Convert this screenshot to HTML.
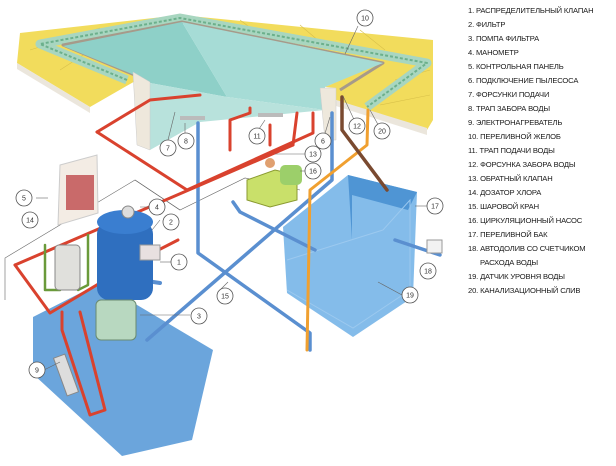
<!DOCTYPE html>
<html><head><meta charset="utf-8"><style>
html,body{margin:0;padding:0;background:#fff;}
svg{display:block}
.lg{font-family:"Liberation Sans",sans-serif;font-size:7.6px;fill:#1a1a1a;letter-spacing:-0.15px}
.n{font-family:"Liberation Sans",sans-serif;font-size:7px;fill:#333;text-anchor:middle}
.c{fill:#fff;stroke:#555;stroke-width:0.8}
.ld{stroke:#666;stroke-width:0.6;fill:none}
</style></head><body>
<svg width="616" height="466" viewBox="0 0 616 466" xmlns="http://www.w3.org/2000/svg">
<rect width="616" height="466" fill="#fff"/>
<!-- deck -->
<polygon points="20,33 180,15 433,40 433,120 427,130 336,100 336,88 325,87 383,62 182,20 63,43 137,74 137,80 90,107 17,63" fill="#f2dc5c"/>
<g stroke="#d8c04a" stroke-width="0.6" fill="none">
<line x1="30" y1="50" x2="100" y2="28"/><line x1="60" y1="70" x2="130" y2="25"/><line x1="240" y1="20" x2="260" y2="35"/>
<line x1="300" y1="25" x2="320" y2="42"/><line x1="360" y1="30" x2="385" y2="50"/><line x1="395" y1="80" x2="430" y2="70"/><line x1="380" y1="105" x2="430" y2="95"/>
</g>
<polygon points="17,63 90,107 90,113 17,69" fill="#ebe6dc"/>
<polygon points="336,100 427,128 427,135 336,106" fill="#ebe6dc"/>
<polyline points="127,80 40,44 180,18 427,63 367,107" fill="none" stroke="#a8d6c0" stroke-width="9" stroke-linejoin="round"/>
<polyline points="127,80 40,44 180,18 427,63 367,107" fill="none" stroke="#6cb08c" stroke-width="2" stroke-linejoin="round" stroke-dasharray="3 2"/>
<polyline points="137,76 63,45 182,22 383,63 340,90" fill="none" stroke="#a69a8a" stroke-width="3" stroke-linejoin="round"/>
<!-- water -->
<polygon points="63,46 182,22 227,97 150,83 137,76" fill="#8ed0c8"/>
<polygon points="182,22 383,63 325,87 325,110 227,97" fill="#a6dcd6"/>
<polygon points="150,83 227,97 325,110 200,122 150,150" fill="#b8e2dc"/>
<polygon points="133,72 150,82 150,150 137,145" fill="#eee8dc" stroke="#ccc" stroke-width="0.5"/>
<polygon points="320,88 336,88 336,140 325,140" fill="#eee8dc" stroke="#ccc" stroke-width="0.5"/>
<rect x="180" y="116" width="25" height="4" fill="#bbb"/>
<rect x="258" y="113" width="25" height="4" fill="#bbb"/>
<!-- blue pad -->
<polygon points="33,317 100,283 213,350 192,440 122,456 33,374" fill="#5b9bd8" opacity="0.9"/>
<!-- tank 17 -->
<polygon points="283,227 348,175 417,192 413,297 353,337 287,293" fill="#6fb0e6" opacity="0.85"/>
<polygon points="348,175 417,192 408,210 352,195 352,240" fill="#4f95d4"/>
<polyline points="287,260 383,230 410,200 410,290 353,328 287,290" fill="none" stroke="#9cc9ef" stroke-width="1"/>
<!-- outlines of floor -->
<polyline points="5,300 5,258 135,180 180,210" class="ld"/>
<polyline points="135,180 180,210 245,178 300,190" class="ld"/>
<!-- pipes -->
<g fill="none" stroke-linejoin="round" stroke-linecap="round">
<polyline points="198,123 198,253 310,333 310,350" stroke="#5a8fd0" stroke-width="3.5"/>
<polyline points="332,113 332,180 147,340" stroke="#5a8fd0" stroke-width="3.5"/>
<polyline points="233,202 240,212 315,250" stroke="#5a8fd0" stroke-width="3.5"/>
<polyline points="395,240 440,255" stroke="#5a8fd0" stroke-width="3.5"/>
<polyline points="140,280 160,283" stroke="#5a8fd0" stroke-width="4"/>
<polyline points="368,110 367,145 310,190 307,350" stroke="#f0a030" stroke-width="3"/>
<polyline points="342,97 342,130 387,190" stroke="#7a4a30" stroke-width="3.5"/>
<polyline points="97,132 150,100 200,95" stroke="#d9422e" stroke-width="3"/>
<polyline points="97,132 187,190 313,133 313,113" stroke="#d9422e" stroke-width="3"/>
<polyline points="230,150 230,120 250,113 250,108" stroke="#d9422e" stroke-width="3"/>
<polyline points="15,265 293,145" stroke="#d9422e" stroke-width="3"/>
<polyline points="15,265 50,313 135,262 178,240" stroke="#d9422e" stroke-width="3"/>
<polyline points="62,312 62,330 90,415 105,410 80,312" stroke="#d9422e" stroke-width="3"/>
<polyline points="293,145 297,113" stroke="#d9422e" stroke-width="3"/>
<polyline points="270,145 270,125" stroke="#d9422e" stroke-width="3"/>
<polyline points="45,245 45,290 60,290" stroke="#6a9a3a" stroke-width="2.5"/>
<polyline points="88,235 88,285 78,290" stroke="#6a9a3a" stroke-width="2.5"/>
</g>
<!-- control panel -->
<polygon points="60,165 97,155 98,213 58,225" fill="#f3ece4" stroke="#ccc"/>
<rect x="66" y="175" width="28" height="35" fill="#c96a6a"/>
<!-- filter -->
<rect x="97" y="222" width="56" height="78" rx="12" fill="#2f6fbf"/>
<ellipse cx="125" cy="222" rx="28" ry="12" fill="#3a7ed0"/>
<circle cx="128" cy="212" r="6" fill="#ddd" stroke="#888"/>
<rect x="140" y="245" width="20" height="15" fill="#e8e0e0" stroke="#999"/>
<!-- chlorinator -->
<rect x="55" y="245" width="25" height="45" rx="4" fill="#e0e0dc" stroke="#888"/>
<!-- pump 3 -->
<rect x="96" y="300" width="40" height="40" rx="5" fill="#b8d8c0" stroke="#6a8a70"/>
<!-- pump 16 -->
<polygon points="247,180 275,170 297,175 297,200 270,207 247,200" fill="#c9e06a" stroke="#8a9a30"/>
<rect x="280" y="165" width="22" height="20" rx="5" fill="#9ccf6a"/>
<circle cx="270" cy="163" r="5" fill="#e0a070"/>
<!-- heater 9 -->
<rect x="60" y="355" width="12" height="40" fill="#ddd" stroke="#888" transform="rotate(-20 66 375)"/>
<!-- 18 -->
<rect x="427" y="240" width="15" height="13" fill="#f2f2f2" stroke="#999"/>
<!-- label lines -->
<g class="ld">
<line x1="36" y1="198" x2="48" y2="198"/><line x1="358" y1="26" x2="345" y2="54"/>
<line x1="168" y1="140" x2="175" y2="112"/><line x1="185" y1="138" x2="185" y2="123"/>
<line x1="257" y1="132" x2="265" y2="120"/><line x1="275" y1="154" x2="305" y2="154"/>
<line x1="300" y1="171" x2="307" y2="171"/><line x1="323" y1="140" x2="330" y2="117"/>
<line x1="357" y1="126" x2="343" y2="96"/><line x1="381" y1="130" x2="370" y2="110"/>
<line x1="158" y1="207" x2="140" y2="207"/><line x1="160" y1="220" x2="152" y2="230"/>
<line x1="172" y1="262" x2="160" y2="262"/><line x1="190" y1="315" x2="140" y2="315"/>
<line x1="220" y1="290" x2="228" y2="282"/><line x1="427" y1="206" x2="415" y2="206"/>
<line x1="402" y1="295" x2="378" y2="282"/><line x1="44" y1="370" x2="60" y2="362"/>
</g>
<g>
<circle class="c" cx="24" cy="198" r="8"/><text class="n" x="24" y="200.5">5</text>
<circle class="c" cx="365" cy="18" r="8"/><text class="n" x="365" y="20.5">10</text>
<circle class="c" cx="168" cy="148" r="8"/><text class="n" x="168" y="150.5">7</text>
<circle class="c" cx="186" cy="141" r="8"/><text class="n" x="186" y="143.5">8</text>
<circle class="c" cx="257" cy="136" r="8"/><text class="n" x="257" y="138.5">11</text>
<circle class="c" cx="313" cy="154" r="8"/><text class="n" x="313" y="156.5">13</text>
<circle class="c" cx="313" cy="171" r="8"/><text class="n" x="313" y="173.5">16</text>
<circle class="c" cx="323" cy="141" r="8"/><text class="n" x="323" y="143.5">6</text>
<circle class="c" cx="357" cy="126" r="8"/><text class="n" x="357" y="128.5">12</text>
<circle class="c" cx="382" cy="131" r="8"/><text class="n" x="382" y="133.5">20</text>
<circle class="c" cx="30" cy="220" r="8"/><text class="n" x="30" y="222.5">14</text>
<circle class="c" cx="157" cy="207" r="8"/><text class="n" x="157" y="209.5">4</text>
<circle class="c" cx="171" cy="222" r="8"/><text class="n" x="171" y="224.5">2</text>
<circle class="c" cx="179" cy="262" r="8"/><text class="n" x="179" y="264.5">1</text>
<circle class="c" cx="199" cy="316" r="8"/><text class="n" x="199" y="318.5">3</text>
<circle class="c" cx="225" cy="296" r="8"/><text class="n" x="225" y="298.5">15</text>
<circle class="c" cx="435" cy="206" r="8"/><text class="n" x="435" y="208.5">17</text>
<circle class="c" cx="428" cy="271" r="8"/><text class="n" x="428" y="273.5">18</text>
<circle class="c" cx="410" cy="295" r="8"/><text class="n" x="410" y="297.5">19</text>
<circle class="c" cx="37" cy="370" r="8"/><text class="n" x="37" y="372.5">9</text>
</g>
<g class="lg">
<text x="468" y="13">1. РАСПРЕДЕЛИТЕЛЬНЫЙ КЛАПАН</text>
<text x="468" y="27">2. ФИЛЬТР</text>
<text x="468" y="41">3. ПОМПА ФИЛЬТРА</text>
<text x="468" y="55">4. МАНОМЕТР</text>
<text x="468" y="69">5. КОНТРОЛЬНАЯ ПАНЕЛЬ</text>
<text x="468" y="83">6. ПОДКЛЮЧЕНИЕ ПЫЛЕСОСА</text>
<text x="468" y="97">7. ФОРСУНКИ ПОДАЧИ</text>
<text x="468" y="111">8. ТРАП ЗАБОРА ВОДЫ</text>
<text x="468" y="125">9. ЭЛЕКТРОНАГРЕВАТЕЛЬ</text>
<text x="468" y="139">10. ПЕРЕЛИВНОЙ ЖЕЛОБ</text>
<text x="468" y="153">11. ТРАП ПОДАЧИ ВОДЫ</text>
<text x="468" y="167">12. ФОРСУНКА ЗАБОРА ВОДЫ</text>
<text x="468" y="181">13. ОБРАТНЫЙ КЛАПАН</text>
<text x="468" y="195">14. ДОЗАТОР ХЛОРА</text>
<text x="468" y="209">15. ШАРОВОЙ КРАН</text>
<text x="468" y="223">16. ЦИРКУЛЯЦИОННЫЙ НАСОС</text>
<text x="468" y="237">17. ПЕРЕЛИВНОЙ БАК</text>
<text x="468" y="251">18. АВТОДОЛИВ СО СЧЕТЧИКОМ</text>
<text x="480" y="265">РАСХОДА ВОДЫ</text>
<text x="468" y="279">19. ДАТЧИК УРОВНЯ ВОДЫ</text>
<text x="468" y="293">20. КАНАЛИЗАЦИОННЫЙ СЛИВ</text>
</g>
</svg>
</body></html>
